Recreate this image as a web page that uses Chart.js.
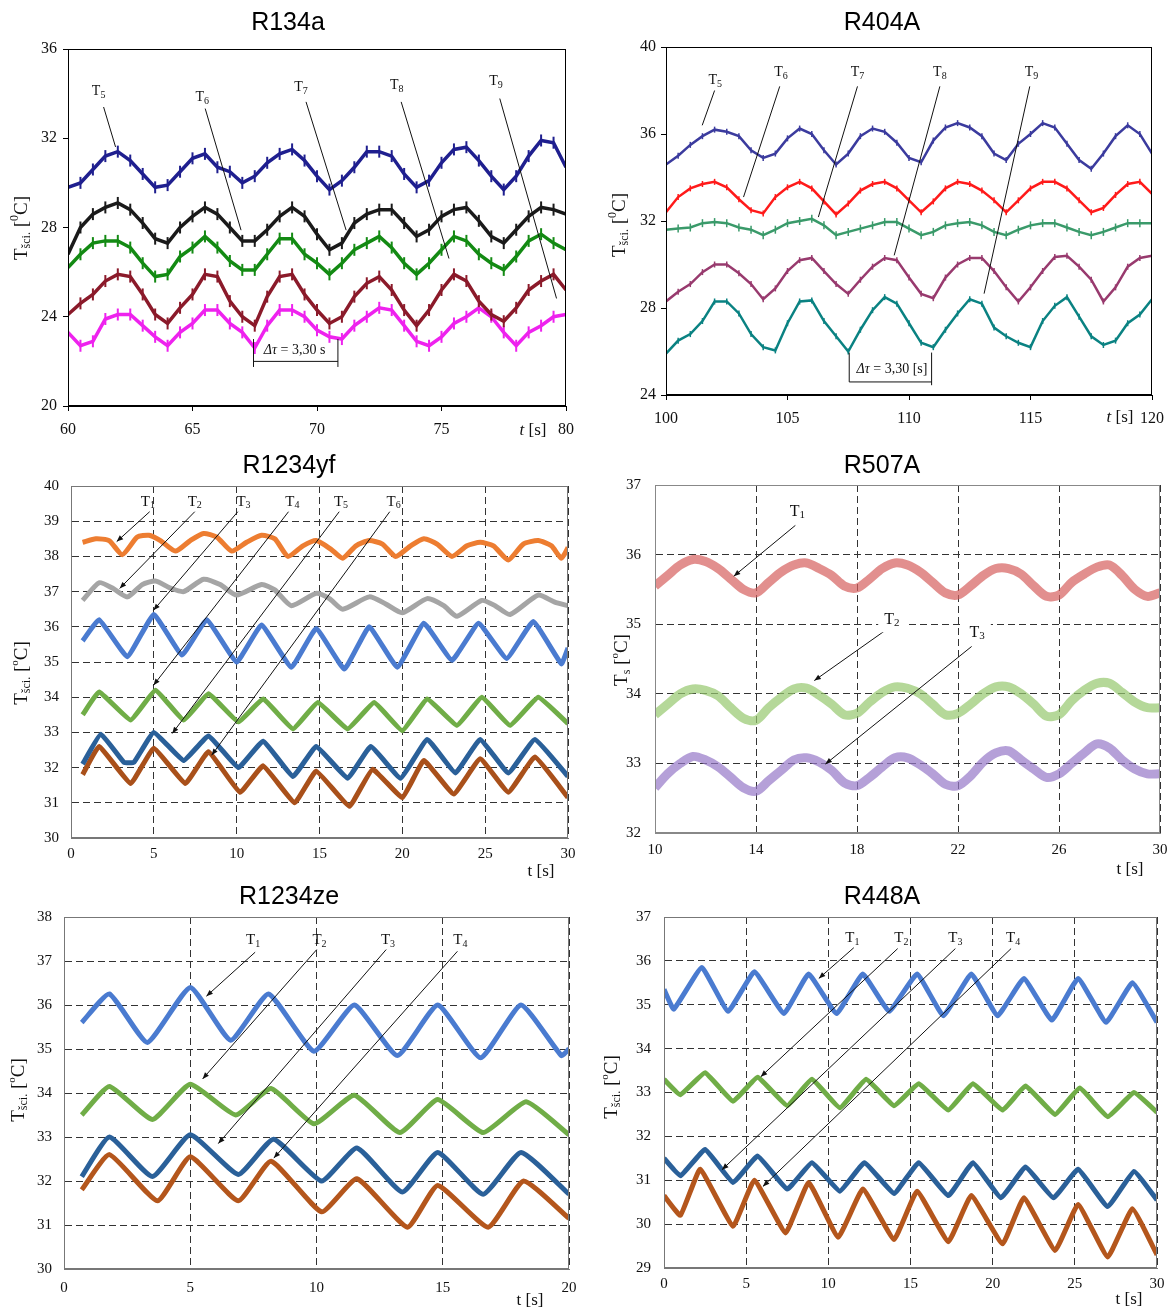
<!DOCTYPE html>
<html>
<head>
<meta charset="utf-8">
<script src="https://cdn.jsdelivr.net/npm/chart.js@4.4.1/dist/chart.umd.min.js"></script>
<style>
  html, body { margin: 0; padding: 0; background: #fff; }
  #page { position: relative; width: 1168px; height: 1308px; overflow: hidden; }
  canvas { position: absolute; }
</style>
</head>
<body>
<div id="page">
  <canvas id="c134" width="584" height="452" style="left:0;top:0"></canvas>
  <canvas id="c404" width="584" height="452" style="left:584px;top:0"></canvas>
  <canvas id="cyf" width="584" height="446" style="left:0;top:440px"></canvas>
  <canvas id="c507" width="584" height="446" style="left:584px;top:440px"></canvas>
  <canvas id="cze" width="584" height="438" style="left:0;top:870px"></canvas>
  <canvas id="c448" width="584" height="438" style="left:584px;top:870px"></canvas>
</div>
<script>
// ---- R134a, 60..80 s ----
const r134t = [60,60.5,61,61.5,62,62.5,63,63.5,64,64.5,65,65.5,66,66.5,67,67.5,68,68.5,69,69.5,70,70.5,71,71.5,72,72.5,73,73.5,74,74.5,75,75.5,76,76.5,77,77.5,78,78.5,79,79.5,80];
const r134T5 = [29.8,30.0,30.6,31.2,31.4,31.0,30.4,29.8,29.9,30.5,31.1,31.3,30.7,30.5,30.0,30.3,30.9,31.3,31.5,31.0,30.3,29.7,30.1,30.7,31.4,31.4,31.2,30.4,29.8,30.1,30.9,31.5,31.6,31.0,30.3,29.7,30.3,31.2,31.9,31.8,30.7];
const r134T6 = [26.8,28.0,28.6,28.9,29.1,28.8,28.2,27.5,27.3,28.0,28.5,28.9,28.6,28.0,27.4,27.4,27.9,28.5,28.9,28.5,27.7,27.0,27.3,28.2,28.6,28.8,28.8,28.2,27.6,27.9,28.5,28.8,28.9,28.3,27.6,27.3,27.9,28.5,28.9,28.8,28.6];
const r134T7 = [26.2,26.8,27.3,27.4,27.4,27.1,26.4,25.8,25.9,26.7,27.1,27.6,27.1,26.5,26.1,26.1,26.8,27.5,27.5,26.8,26.4,25.9,26.4,27.0,27.3,27.6,27.1,26.4,25.9,26.4,27.0,27.6,27.4,26.8,26.4,26.1,26.7,27.4,27.7,27.3,27.0];
const r134T8 = [24.1,24.6,25.0,25.6,25.9,25.8,25.0,24.1,23.7,24.4,25.0,25.9,25.8,24.7,24.0,23.6,24.9,25.8,25.9,25.0,24.3,23.7,24.0,24.9,25.5,25.8,25.2,24.3,23.6,24.3,25.2,25.9,25.6,24.7,24.1,23.8,24.4,25.2,25.6,25.9,25.2];
const r134T9 = [23.3,22.7,22.9,23.9,24.1,24.1,23.6,23.1,22.7,23.3,23.7,24.3,24.3,23.7,23.3,22.6,23.6,24.3,24.3,24.0,23.4,23.1,23.0,23.6,24.0,24.4,24.3,23.6,22.9,22.7,23.1,23.7,24.0,24.4,24.0,23.3,22.7,23.3,23.6,24.0,24.1];

// ---- R404A, 100..120 s ----
const r404t = [100,100.5,101,101.5,102,102.5,103,103.5,104,104.5,105,105.5,106,106.5,107,107.5,108,108.5,109,109.5,110,110.5,111,111.5,112,112.5,113,113.5,114,114.5,115,115.5,116,116.5,117,117.5,118,118.5,119,119.5,120];
const r404T5 = [34.6,35.0,35.5,35.9,36.2,36.1,35.9,35.25,34.9,35.1,35.8,36.25,36.0,35.25,34.6,35.1,35.9,36.25,36.1,35.6,34.9,34.7,35.7,36.3,36.5,36.3,35.9,35.1,34.8,35.55,36.0,36.5,36.3,35.55,34.8,34.4,35.1,35.9,36.4,36.0,35.1];
const r404T6 = [32.4,33.1,33.5,33.7,33.8,33.55,33.0,32.5,32.35,33.1,33.55,33.8,33.5,32.9,32.3,32.8,33.4,33.7,33.8,33.5,32.95,32.4,32.9,33.5,33.8,33.7,33.4,32.95,32.4,32.95,33.5,33.8,33.8,33.5,32.95,32.4,32.6,33.2,33.7,33.8,33.25];
const r404T7 = [31.6,31.65,31.7,31.9,31.95,31.9,31.7,31.6,31.35,31.6,31.9,32.0,32.1,31.8,31.35,31.5,31.65,31.8,31.95,31.95,31.65,31.35,31.5,31.8,31.9,31.95,31.8,31.5,31.35,31.6,31.8,31.9,31.9,31.7,31.5,31.35,31.5,31.7,31.9,31.9,31.9];
const r404T8 = [28.3,28.75,29.1,29.65,30.0,30.0,29.6,29.1,28.4,28.9,29.7,30.2,30.3,29.7,29.1,28.65,29.3,29.9,30.3,30.2,29.4,28.65,28.45,29.4,30.0,30.3,30.3,29.7,28.95,28.3,28.95,29.7,30.35,30.4,29.9,29.3,28.3,28.95,29.9,30.3,30.4];
const r404T9 = [25.9,26.5,26.8,27.4,28.3,28.3,27.75,26.8,26.2,26.05,27.3,28.3,28.35,27.4,26.7,26.0,27.0,27.9,28.5,28.2,27.3,26.4,26.2,27.0,27.75,28.4,28.2,27.1,26.7,26.4,26.2,27.4,28.1,28.5,27.6,26.7,26.3,26.5,27.3,27.7,28.4];

// ---- R1234yf, 0..30 s (turning points) ----
const yfT1t = [0.7,1.5,2.3,3.1,4.0,4.7,5.4,6.3,7.2,8.0,8.8,9.7,10.6,11.5,12.3,13.1,14.0,14.8,15.7,16.4,17.2,18.0,18.8,19.6,20.5,21.3,22.1,23.0,23.9,24.7,25.5,26.4,27.3,28.2,29.0,29.6,30.0];
const yfT1 = [38.4,38.5,38.45,38.05,38.55,38.6,38.45,38.15,38.45,38.65,38.55,38.15,38.4,38.6,38.5,38.0,38.3,38.45,38.2,37.95,38.3,38.45,38.35,38.0,38.3,38.5,38.35,38.0,38.3,38.4,38.3,37.9,38.35,38.45,38.3,37.95,38.25];
const yfT2t = [0.7,1.7,2.5,3.4,4.3,5.1,6.0,6.8,8.0,9.0,10.0,11.5,12.3,13.3,14.8,15.6,16.4,18.0,19.0,20.0,21.5,22.5,23.3,24.8,25.6,26.5,28.2,29.2,30.0];
const yfT2 = [36.75,37.25,37.1,36.85,37.2,37.3,37.1,37.0,37.35,37.2,36.9,37.2,37.05,36.6,36.95,36.8,36.5,36.85,36.65,36.4,36.8,36.6,36.3,36.75,36.6,36.35,36.9,36.7,36.6];
const yfT3t = [0.7,1.7,3.4,5.0,6.7,8.2,10.0,11.5,13.3,14.8,16.5,18.0,19.7,21.3,23.0,24.6,26.3,27.9,29.6,30.0];
const yfT3 = [35.6,36.2,35.15,36.35,35.2,36.2,35.0,36.05,34.85,35.95,34.8,36.0,34.85,36.1,35.05,36.1,35.1,36.15,34.95,35.4];
const yfT4t = [0.7,1.7,3.6,5.1,6.8,8.3,10.1,11.6,13.4,14.9,16.7,18.3,20.0,21.5,23.3,24.8,26.5,28.2,30.0];
const yfT4 = [33.5,34.15,33.35,34.2,33.35,34.1,33.3,33.95,33.1,33.85,33.1,33.85,33.05,33.95,33.2,34.0,33.2,34.0,33.25];
const yfT5t = [0.7,1.8,3.2,3.8,5.0,6.8,8.3,10.1,11.6,13.4,14.8,16.7,18.1,19.9,21.5,23.2,24.7,26.4,28.0,30.0];
const yfT5 = [32.1,32.95,32.15,32.15,33.0,32.2,32.9,32.0,32.75,31.75,32.6,31.7,32.6,31.7,32.8,31.85,32.8,31.85,32.8,31.75];
const yfT6t = [0.7,1.7,3.6,5.0,6.9,8.3,10.2,11.6,13.5,14.8,16.8,18.2,20.0,21.3,23.1,24.7,26.4,28.0,30.0];
const yfT6 = [31.8,32.6,31.55,32.55,31.55,32.45,31.3,32.05,31.0,31.9,30.9,31.95,31.15,32.2,31.25,32.25,31.3,32.3,31.15];

// ---- R507A, 10..30 s ----
const r507t = [10,10.5,11,11.5,12,12.5,13,13.5,14,14.5,15,15.5,16,16.5,17,17.5,18,18.5,19,19.5,20,20.5,21,21.5,22,22.5,23,23.5,24,24.5,25,25.5,26,26.5,27,27.5,28,28.5,29,29.5,30];
const r507T1 = [35.55,35.7,35.85,35.93,35.9,35.8,35.65,35.5,35.45,35.6,35.75,35.85,35.88,35.8,35.7,35.55,35.52,35.65,35.8,35.88,35.85,35.75,35.6,35.45,35.42,35.55,35.7,35.8,35.8,35.72,35.55,35.4,35.42,35.6,35.72,35.82,35.85,35.7,35.5,35.4,35.45];
const r507T2 = [33.7,33.85,34.0,34.07,34.05,33.97,33.8,33.65,33.62,33.8,33.95,34.07,34.08,33.98,33.85,33.7,33.72,33.88,34.02,34.1,34.08,34.0,33.85,33.7,33.72,33.85,34.0,34.1,34.1,34.0,33.85,33.68,33.7,33.9,34.05,34.15,34.15,34.02,33.88,33.8,33.8];
const r507T3 = [32.65,32.85,33.0,33.1,33.05,32.95,32.8,32.65,32.6,32.75,32.9,33.05,33.08,33.02,32.9,32.72,32.68,32.8,32.95,33.08,33.08,32.98,32.85,32.7,32.68,32.82,33.02,33.15,33.18,33.05,32.92,32.8,32.85,33.0,33.15,33.28,33.22,33.05,32.92,32.85,32.85];

// ---- R1234ze, 0..20 s (turning points) ----
const zeT1t = [0.7,1.8,3.3,5.0,6.6,8.1,9.9,11.5,13.2,14.8,16.5,18.1,19.7,20.0];
const zeT1 = [35.6,36.25,35.15,36.4,35.2,36.25,34.95,36.0,34.85,36.0,34.8,36.0,34.85,35.0];
const zeT2t = [0.7,1.8,3.5,5.0,6.8,8.2,9.9,11.5,13.3,14.8,16.6,18.3,20.0];
const zeT2 = [33.5,34.15,33.4,34.2,33.5,34.1,33.3,33.95,33.1,33.85,33.1,33.8,33.05];
const zeT3t = [0.7,1.8,3.5,5.0,6.9,8.3,10.2,11.6,13.4,14.8,16.6,18.1,20.0];
const zeT3 = [32.1,33.0,32.1,33.05,32.15,32.95,32.0,32.75,31.75,32.65,31.7,32.65,31.7];
const zeT4t = [0.7,1.8,3.7,5.0,6.9,8.2,10.2,11.6,13.6,14.8,16.8,18.2,20.0];
const zeT4 = [31.8,32.6,31.55,32.55,31.55,32.45,31.3,32.05,30.95,31.9,30.95,32.0,31.15];

// ---- R448A, 0..30 s (turning points) ----
const a448T1t = [0,0.6,2.3,3.9,5.5,7.3,8.8,10.5,12.1,13.7,15.4,17.0,18.7,20.3,21.9,23.6,25.2,26.9,28.5,30];
const a448T1 = [35.35,34.9,35.85,34.85,35.75,34.8,35.7,34.8,35.7,34.85,35.7,34.75,35.7,34.75,35.6,34.65,35.6,34.6,35.5,34.6];
const a448T2t = [0,1.0,2.5,4.2,5.7,7.5,9.0,10.7,12.3,14.0,15.5,17.3,18.8,20.6,22.0,23.8,25.3,27.0,28.6,30];
const a448T2 = [33.3,32.95,33.45,32.8,33.35,32.7,33.3,32.65,33.3,32.7,33.2,32.6,33.2,32.6,33.15,32.5,33.1,32.45,33.0,32.55];
const a448T3t = [0,1.0,2.5,4.2,5.7,7.5,9.0,10.7,12.2,14.0,15.5,17.3,18.8,20.5,22.0,23.7,25.2,27.0,28.6,30];
const a448T3 = [31.5,31.1,31.7,30.95,31.55,30.8,31.4,30.75,31.4,30.7,31.4,30.65,31.4,30.6,31.3,30.6,31.25,30.4,31.2,30.55];
const a448T4t = [0,1.0,2.2,4.2,5.5,7.4,8.8,10.6,12.1,14.0,15.4,17.3,18.7,20.6,21.9,23.8,25.2,27.0,28.5,30];
const a448T4 = [30.65,30.2,31.25,29.95,31.0,29.8,30.95,29.7,30.8,29.65,30.75,29.6,30.65,29.55,30.6,29.4,30.45,29.25,30.35,29.3];

const SERIF = '"Liberation Serif", "Times New Roman", serif';
const SANS = '"Liberation Sans", Arial, sans-serif';
const YW = 40, XH = 30;

function fnt(p) { return (p[3] ? 'italic ' : '') + p[1] + 'px ' + SERIF; }

// draws text made of parts [text, size, dy, italic] around (x, y)
function rich(ctx, parts, x, y, align) {
  const widths = parts.map(p => { ctx.font = fnt(p); return ctx.measureText(p[0]).width; });
  const total = widths.reduce((a, b) => a + b, 0);
  let cx = align === 'center' ? x - total / 2 : x;
  ctx.textAlign = 'left';
  ctx.textBaseline = 'middle';
  parts.forEach((p, i) => {
    ctx.font = fnt(p);
    ctx.fillText(p[0], cx, y + (p[2] || 0));
    cx += widths[i];
  });
  return total;
}

const lab = (n, s, sub) => [['T', s], [String(n), sub, 4]];

function series(ts, vs, color, width, extra) {
  return Object.assign({
    data: ts.map((t, i) => ({ x: t, y: vs[i] })),
    borderColor: color,
    backgroundColor: color,
    borderWidth: width,
    pointRadius: 0,
    tension: 0
  }, extra || {});
}

function makeDeco(d) {
  return {
    id: 'deco',
    afterDraw(chart) {
      const { ctx, chartArea: a, scales: { x, y } } = chart;
      const px = v => x.getPixelForValue(v), py = v => y.getPixelForValue(v);
      ctx.save();
      // frame
      ctx.strokeStyle = d.box;
      ctx.lineWidth = 1;
      ctx.strokeRect(Math.round(a.left) + 0.5, Math.round(a.top) + 0.5, Math.round(a.width) - 1, Math.round(a.height) - 1);
      ctx.fillStyle = '#000';
      // panel title
      ctx.font = '25px ' + SANS;
      ctx.textAlign = 'center';
      ctx.textBaseline = 'middle';
      ctx.fillText(d.title, d.titleAt[0], d.titleAt[1]);
      // axis titles
      ctx.fillStyle = '#111';
      rich(ctx, d.xTitle.parts, d.xTitle.at[0], d.xTitle.at[1], 'center');
      ctx.save();
      ctx.translate(d.yTitle.at[0], d.yTitle.at[1]);
      ctx.rotate(-Math.PI / 2);
      rich(ctx, d.yTitle.parts, 0, 0, 'center');
      ctx.restore();
      // leader lines
      ctx.strokeStyle = '#111';
      ctx.lineWidth = 1;
      (d.lines || []).forEach(l => {
        const x1 = px(l[0]), y1 = py(l[1]), x2 = px(l[2]), y2 = py(l[3]);
        ctx.beginPath();
        ctx.moveTo(x1, y1);
        ctx.lineTo(x2, y2);
        ctx.stroke();
        if (d.arrows) {
          const ang = Math.atan2(y2 - y1, x2 - x1), s = 7;
          ctx.beginPath();
          ctx.moveTo(x2, y2);
          ctx.lineTo(x2 - s * Math.cos(ang - 0.38), y2 - s * Math.sin(ang - 0.38));
          ctx.lineTo(x2 - s * Math.cos(ang + 0.38), y2 - s * Math.sin(ang + 0.38));
          ctx.closePath();
          ctx.fill();
        }
      });
      // labels
      (d.labels || []).forEach(l => {
        const lx = px(l[0]), ly = py(l[1]);
        if (d.labelBg) {
          let w = 0;
          l[2].forEach(p => { ctx.font = fnt(p); w += ctx.measureText(p[0]).width; });
          ctx.fillStyle = '#fff';
          ctx.fillRect(lx - w / 2 - 6, ly - 11, w + 12, 24);
        }
        ctx.fillStyle = '#111';
        rich(ctx, l[2], lx, ly, 'center');
      });
      ctx.restore();
    }
  };
}

function buildChart(id, c) {
  const cv = document.getElementById(id);
  const w = cv.width, h = cv.height;
  const tickFont = { family: SERIF, size: c.tickSize };
  const gridOpts = c.dashed
    ? { display: true, drawOnChartArea: true, drawTicks: false, color: '#333', lineWidth: 1 }
    : { display: true, drawOnChartArea: false, drawTicks: true, tickLength: 5, color: '#000', lineWidth: 1 };
  const borderOpts = c.dashed ? { display: true, color: c.box, dash: [7, 4] } : { display: true, color: '#000' };
  return new Chart(cv, {
    type: 'line',
    data: { datasets: c.datasets },
    options: {
      responsive: false,
      animation: false,
      events: [],
      layout: { padding: { left: c.area[0] - YW, top: c.area[1], right: w - c.area[2], bottom: h - c.area[3] - XH } },
      plugins: { legend: { display: false }, tooltip: { enabled: false } },
      scales: {
        x: {
          type: 'linear', min: c.x[0], max: c.x[1],
          ticks: { stepSize: c.x[2], font: tickFont, color: '#111', padding: c.xPad, maxRotation: 0, autoSkip: false },
          grid: gridOpts, border: borderOpts,
          afterFit(s) { s.height = XH; s.paddingLeft = 0; s.paddingRight = 0; }
        },
        y: {
          type: 'linear', min: c.y[0], max: c.y[1],
          ticks: { stepSize: c.y[2], font: tickFont, color: '#111', padding: c.yPad, autoSkip: false },
          grid: gridOpts, border: borderOpts,
          afterFit(s) { s.width = YW; s.paddingTop = 0; s.paddingBottom = 0; }
        }
      }
    },
    plugins: [makeDeco(c.deco)]
  });
}

const jag = (r, bw) => ({ pointStyle: 'line', pointRadius: r, pointRotation: 90, pointBorderWidth: bw || 1.5 });

// R134a
buildChart('c134', {
  area: [68, 49, 566, 406], x: [60, 80, 5], y: [20, 36, 4], tickSize: 16, xPad: 9, yPad: 6, dashed: false,
  datasets: [
    series(r134t, r134T5, '#1f1f8f', 3.5, jag(6, 2)),
    series(r134t, r134T6, '#1a1a1a', 3.5, jag(6, 2)),
    series(r134t, r134T7, '#138a13', 3.5, jag(6, 2)),
    series(r134t, r134T8, '#8b1a2a', 3.5, jag(6, 2)),
    series(r134t, r134T9, '#ee22ee', 3.5, jag(6, 2))
  ],
  deco: {
    title: 'R134a', titleAt: [288, 23], box: '#000',
    xTitle: { at: [533, 431], parts: [['t', 17, 0, true], [' [s]', 17]] },
    yTitle: { at: [22, 228], parts: [['T', 19], ['šci.', 12, 5], [' [', 19], ['0', 12, -7], ['C]', 19]] },
    labels: [
      [61.23, 34.1, lab(5, 14, 10)], [65.39, 33.85, lab(6, 14, 10)], [69.36, 34.3, lab(7, 14, 10)],
      [73.2, 34.35, lab(8, 14, 10)], [77.19, 34.55, lab(9, 14, 10)],
      [69.1, 22.5, [['Δτ', 14, 0, true], [' = 3,30 s', 14]]]
    ],
    lines: [
      [61.43, 33.4, 61.91, 31.61], [65.51, 33.33, 66.95, 27.88], [69.56, 33.63, 71.17, 27.88],
      [73.38, 33.63, 75.3, 26.61], [77.34, 33.78, 79.62, 24.82],
      [67.45, 23.0, 67.45, 21.75], [70.84, 23.0, 70.84, 21.75], [67.45, 22.0, 70.84, 22.0]
    ]
  }
});

// R404A
buildChart('c404', {
  area: [82, 47, 568, 395], x: [100, 120, 5], y: [24, 40, 4], tickSize: 16, xPad: 9, yPad: 5, dashed: false,
  datasets: [
    series(r404t, r404T5, '#3b3b9e', 2.5, jag(3)),
    series(r404t, r404T6, '#ff1a1a', 2.5, jag(3)),
    series(r404t, r404T7, '#3a9a6a', 2.5, jag(4)),
    series(r404t, r404T8, '#983a6e', 2.5, jag(3)),
    series(r404t, r404T9, '#0a8282', 2.5, jag(3))
  ],
  deco: {
    title: 'R404A', titleAt: [298, 23], box: '#000',
    xTitle: { at: [536, 418], parts: [['t', 17, 0, true], [' [s]', 17]] },
    yTitle: { at: [36, 225], parts: [['T', 19], ['šci.', 12, 5], [' [', 19], ['0', 12, -7], ['C]', 19]] },
    labels: [
      [102.03, 38.47, lab(5, 14, 10)], [104.73, 38.85, lab(6, 14, 10)], [107.88, 38.85, lab(7, 14, 10)],
      [111.27, 38.85, lab(8, 14, 10)], [115.04, 38.85, lab(9, 14, 10)],
      [109.3, 25.2, [['Δτ', 14, 0, true], [' = 3,30 [s]', 14]]]
    ],
    lines: [
      [102.0, 38.0, 101.49, 36.4], [104.68, 38.19, 103.19, 33.1], [107.88, 38.19, 106.27, 32.18],
      [111.27, 38.19, 109.39, 30.42], [114.97, 38.19, 113.09, 28.66],
      [107.54, 25.95, 107.54, 24.6], [107.54, 24.6, 110.93, 24.6], [110.93, 25.95, 110.93, 24.45]
    ]
  }
});

// R1234yf
buildChart('cyf', {
  area: [71, 46, 568, 398], x: [0, 30, 5], y: [30, 40, 1], tickSize: 15, xPad: 7, yPad: 12, dashed: true, box: '#777',
  datasets: [
    series(yfT1t, yfT1, '#ed7d31', 5, { tension: 0.2 }),
    series(yfT2t, yfT2, '#a5a5a5', 5, { tension: 0.2 }),
    series(yfT3t, yfT3, '#4a7bd0', 5, { tension: 0.1 }),
    series(yfT4t, yfT4, '#70ad47', 5, { tension: 0.1 }),
    series(yfT5t, yfT5, '#2a6099', 5, { tension: 0.1 }),
    series(yfT6t, yfT6, '#a9501a', 5, { tension: 0.1 })
  ],
  deco: {
    title: 'R1234yf', titleAt: [289, 26], box: '#777', arrows: true,
    xTitle: { at: [541, 432], parts: [['t [s]', 17]] },
    yTitle: { at: [22, 233], parts: [['T', 19], ['šci.', 12, 5], [' [', 19], ['o', 11, -7], ['C]', 19]] },
    labels: [
      [4.64, 39.55, lab(1, 15, 10)], [7.47, 39.55, lab(2, 15, 10)], [10.41, 39.55, lab(3, 15, 10)],
      [13.36, 39.55, lab(4, 15, 10)], [16.3, 39.55, lab(5, 15, 10)], [19.47, 39.55, lab(6, 15, 10)]
    ],
    lines: [
      [4.75, 39.27, 2.76, 38.42], [7.47, 39.27, 2.94, 37.09], [10.07, 39.27, 4.98, 36.47],
      [13.13, 39.27, 4.98, 34.34], [16.19, 39.27, 6.11, 32.97], [19.24, 39.27, 8.49, 32.35]
    ]
  }
});

// R507A
buildChart('c507', {
  area: [71, 45, 576, 393], x: [10, 30, 4], y: [32, 37, 1], tickSize: 15, xPad: 8, yPad: 14, dashed: true, box: '#888',
  datasets: [
    series(r507t, r507T1, 'rgba(214,96,94,0.7)', 9, { tension: 0.3 }),
    series(r507t, r507T2, 'rgba(150,200,110,0.7)', 9, { tension: 0.3 }),
    series(r507t, r507T3, 'rgba(150,120,200,0.7)', 9, { tension: 0.3 })
  ],
  deco: {
    title: 'R507A', titleAt: [298, 26], box: '#888', arrows: true, labelBg: true,
    xTitle: { at: [546, 430], parts: [['t [s]', 17]] },
    yTitle: { at: [38, 220], parts: [['T', 19], ['s', 12, 5], [' [', 19], ['o', 11, -7], ['C]', 19]] },
    labels: [[15.64, 36.62, lab(1, 16, 11)], [19.38, 35.07, lab(2, 16, 11)], [22.76, 34.88, lab(3, 16, 11)]],
    lines: [[15.56, 36.42, 13.12, 35.69], [19.12, 34.91, 16.31, 34.19], [22.54, 34.68, 16.75, 32.99]]
  }
});

// R1234ze
buildChart('cze', {
  area: [64, 47, 569, 399], x: [0, 20, 5], y: [30, 38, 1], tickSize: 15, xPad: 10, yPad: 12, dashed: true, box: '#777',
  datasets: [
    series(zeT1t, zeT1, '#4a7bd0', 5, { tension: 0.15 }),
    series(zeT2t, zeT2, '#70ad47', 5, { tension: 0.15 }),
    series(zeT3t, zeT3, '#2a6099', 5, { tension: 0.15 }),
    series(zeT4t, zeT4, '#b4561c', 5, { tension: 0.15 })
  ],
  deco: {
    title: 'R1234ze', titleAt: [289, 27], box: '#777', arrows: true,
    xTitle: { at: [530, 431], parts: [['t [s]', 17]] },
    yTitle: { at: [19, 220], parts: [['T', 19], ['šci.', 12, 5], [' [', 19], ['o', 11, -7], ['C]', 19]] },
    labels: [[7.49, 37.48, lab(1, 15, 10)], [10.12, 37.48, lab(2, 15, 10)], [12.83, 37.48, lab(3, 15, 10)], [15.7, 37.48, lab(4, 15, 10)]],
    lines: [[7.57, 37.2, 5.64, 36.2], [10.01, 37.26, 5.49, 34.32], [12.76, 37.26, 6.11, 32.85], [15.58, 37.22, 8.31, 32.52]]
  }
});

// R448A
buildChart('c448', {
  area: [80, 47, 573, 398], x: [0, 30, 5], y: [29, 37, 1], tickSize: 15, xPad: 7, yPad: 13, dashed: true, box: '#777',
  datasets: [
    series(a448T1t, a448T1, '#4a7bd0', 5, { tension: 0.1 }),
    series(a448T2t, a448T2, '#70ad47', 5, { tension: 0.1 }),
    series(a448T3t, a448T3, '#2a6099', 5, { tension: 0.1 }),
    series(a448T4t, a448T4, '#b4561c', 5, { tension: 0.1 })
  ],
  deco: {
    title: 'R448A', titleAt: [298, 27], box: '#777', arrows: true,
    xTitle: { at: [545, 430], parts: [['t [s]', 17]] },
    yTitle: { at: [28, 217], parts: [['T', 19], ['šci.', 12, 5], [' [', 19], ['o', 11, -7], ['C]', 19]] },
    labels: [[11.46, 36.51, lab(1, 15, 10)], [14.44, 36.51, lab(2, 15, 10)], [17.73, 36.51, lab(3, 15, 10)], [21.24, 36.51, lab(4, 15, 10)]],
    lines: [[11.55, 36.3, 9.42, 35.6], [14.22, 36.28, 5.89, 33.36], [17.73, 36.28, 3.53, 31.24], [21.12, 36.28, 6.02, 30.86]]
  }
});
</script>
</body>
</html>
